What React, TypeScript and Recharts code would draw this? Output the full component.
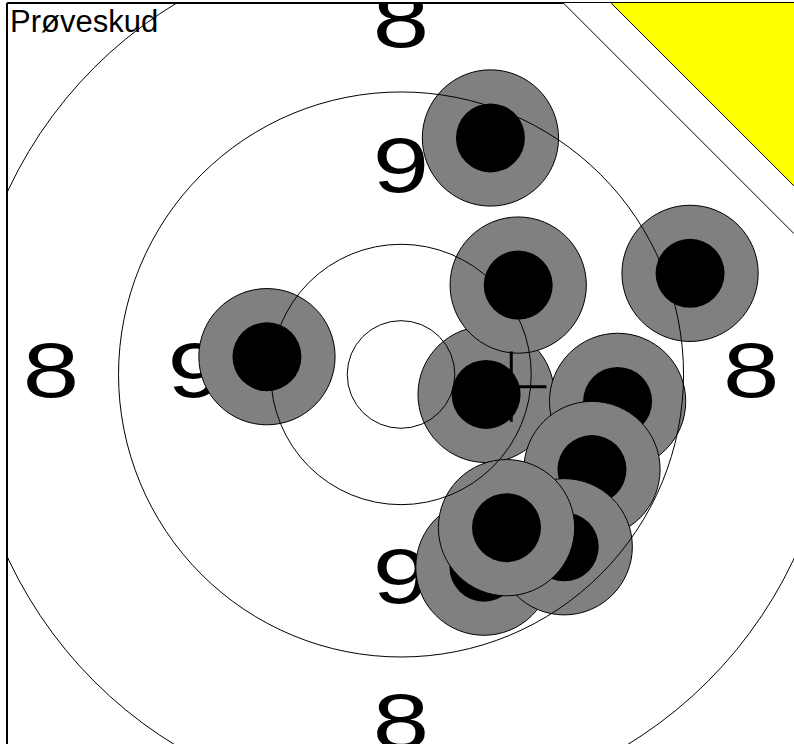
import React from 'react';
import { ScatterChart, Scatter, XAxis, YAxis } from 'recharts';

// target units, center of the target at (0, 0)
const WIDTH = 794;
const HEIGHT = 744;
const MARGIN = { top: 2, right: 0, bottom: 0, left: 6 };
const AXIS_SIZE = 1;
const X_DOMAIN: [number, number] = [-90.8, 90.55];
const Y_DOMAIN: [number, number] = [-85.15, 85.6];
const PX = (WIDTH - MARGIN.left - AXIS_SIZE - MARGIN.right) / (X_DOMAIN[1] - X_DOMAIN[0]);

const FONT = '"Liberation Sans", Arial, Helvetica, sans-serif';

const rings = [{ x: 0, y: 0, r: 100 }, { x: 0, y: 0, r: 65.1 }, { x: 0, y: 0, r: 30 }, { x: 0, y: 0, r: 12.4 }];

const ringLabels = [
  { x: 0, y: 80.7, text: '8' },
  { x: -80.7, y: 0, text: '8' },
  { x: 80.7, y: 0, text: '8' },
  { x: 0, y: -80.7, text: '8' },
  { x: 0, y: 47.3, text: '9' },
  { x: -47.3, y: 0, text: '9' },
  { x: 47.3, y: 0, text: '9' },
  { x: 0, y: -47.3, text: '9' },
];

// shots in the order they were fired
const shots = [
  { x: 20.6, y: 54.5 },
  { x: -30.9, y: 4.1 },
  { x: 66.6, y: 23.3 },
  { x: 19.6, y: -4.6 },
  { x: 27.0, y: 20.6 },
  { x: 49.9, y: -6.2 },
  { x: 44.0, y: -21.9 },
  { x: 19.1, y: -44.4 },
  { x: 37.6, y: -39.7 },
  { x: 24.3, y: -35.3 },
];
const SHOT_R = 15.7;
const HOLE_R = 7.95;

const meanPoint = [{ x: 25.4, y: -2.8 }];
const CROSS_HALF = 8.1;

// sighting-shot corner mark
const cornerBand = [{ x: 37.4, y: 85.6 }, { x: 90.55, y: 32.45 }, { x: 90.55, y: 85.6 }];
const cornerFill = [{ x: 48.4, y: 85.6 }, { x: 90.55, y: 43.45 }, { x: 90.55, y: 85.6 }];

const Empty = () => <g />;

const polygonShape = (verts: { x: number; y: number }[], fill: string) => (props: any) => {
  const { cx, cy, payload, index } = props;
  if (index !== 0) return <g />;
  const pts = verts.map((v) => `${cx + (v.x - payload.x) * PX},${cy - (v.y - payload.y) * PX}`).join(' ');
  return <polygon points={pts} fill={fill} stroke="none" />;
};
const BandShape = polygonShape(cornerBand, '#ffffff');
const YellowShape = polygonShape(cornerFill, '#ffff00');

const LabelShape = (props: any) => {
  const { cx, cy, payload } = props;
  return (
    <text
      transform={`translate(${cx},${cy + 23}) scale(1.3,1)`}
      textAnchor="middle"
      fontFamily={FONT}
      fontSize={78}
      fill="#000"
    >
      {payload.text}
    </text>
  );
};

const ShotShape = (props: any) => {
  const { cx, cy } = props;
  return (
    <g>
      <circle cx={cx} cy={cy} r={SHOT_R * PX} fill="#808080" stroke="#000" strokeWidth={1} />
      <circle cx={cx} cy={cy} r={HOLE_R * PX} fill="#000" />
    </g>
  );
};

const CrossShape = (props: any) => {
  const { cx, cy } = props;
  const h = CROSS_HALF * PX;
  return (
    <g stroke="#000" strokeWidth={3}>
      <line x1={cx - h} y1={cy} x2={cx + h} y2={cy} />
      <line x1={cx} y1={cy - h} x2={cx} y2={cy + h} />
    </g>
  );
};

const RingShape = (props: any) => {
  const { cx, cy, payload } = props;
  return <circle cx={cx} cy={cy} r={payload.r * PX} fill="none" stroke="#000" strokeWidth={1} />;
};

export default function App() {
  return (
    <div style={{ position: 'absolute', left: 0, top: 0, width: WIDTH, height: HEIGHT, background: '#fff' }}>
      <ScatterChart width={WIDTH} height={HEIGHT} margin={MARGIN}>
        <XAxis
          type="number"
          dataKey="x"
          orientation="top"
          domain={X_DOMAIN}
          allowDataOverflow
          height={AXIS_SIZE}
          tick={false}
          tickLine={false}
          axisLine={{ stroke: '#000', strokeWidth: 2 }}
        />
        <YAxis
          type="number"
          dataKey="y"
          domain={Y_DOMAIN}
          allowDataOverflow
          width={AXIS_SIZE}
          tick={false}
          tickLine={false}
          axisLine={{ stroke: '#000', strokeWidth: 2 }}
        />
        <Scatter data={ringLabels} shape={LabelShape} isAnimationActive={false} />
        <Scatter data={shots} shape={ShotShape} isAnimationActive={false} />
        <Scatter data={meanPoint} shape={CrossShape} isAnimationActive={false} />
        <Scatter data={rings} shape={RingShape} isAnimationActive={false} />
        <Scatter data={cornerBand} shape={BandShape} isAnimationActive={false} />
        <Scatter data={cornerFill} shape={YellowShape} isAnimationActive={false} />
        <Scatter data={cornerFill.slice(0, 2)} line={{ stroke: '#000', strokeWidth: 1 }} shape={Empty} isAnimationActive={false} />
        <Scatter data={cornerBand.slice(0, 2)} line={{ stroke: '#000', strokeWidth: 1 }} shape={Empty} isAnimationActive={false} />
      </ScatterChart>
      <div
        style={{
          position: 'absolute',
          left: 10,
          top: 6,
          fontFamily: FONT,
          fontSize: 31,
          lineHeight: '31px',
          color: '#000',
          whiteSpace: 'nowrap',
        }}
      >
        Prøveskud
      </div>
    </div>
  );
}
